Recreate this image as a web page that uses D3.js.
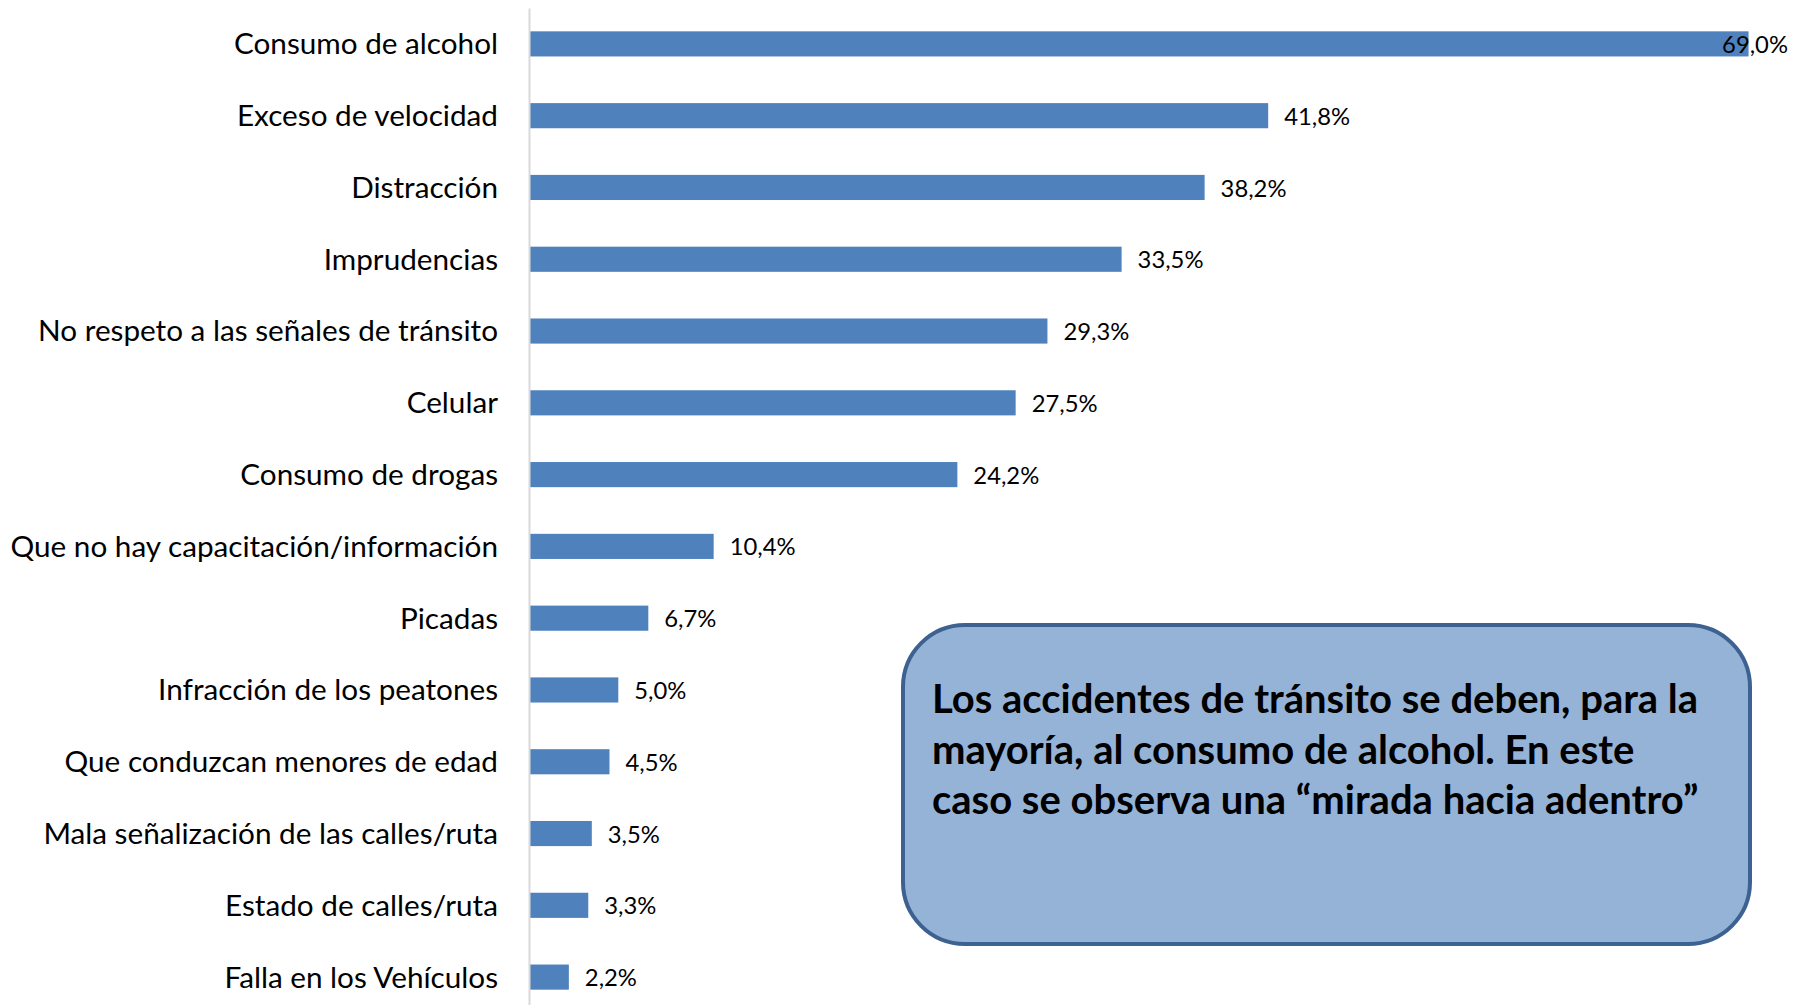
<!DOCTYPE html>
<html>
<head>
<meta charset="utf-8">
<script src="https://cdn.jsdelivr.net/npm/d3@7"></script>
<style>
  body { margin: 0; background: #fff; }
  text { font-family: Lato, "Noto Sans", sans-serif; fill: #000; }
</style>
</head>
<body>
<svg id="chart" width="1804" height="1005"></svg>
<script>
var categories = ["Consumo de alcohol", "Exceso de velocidad", "Distracción", "Imprudencias",
  "No respeto a las señales de tránsito", "Celular", "Consumo de drogas",
  "Que no hay capacitación/información", "Picadas", "Infracción de los peatones",
  "Que conduzcan menores de edad", "Mala señalización de las calles/ruta",
  "Estado de calles/ruta", "Falla en los Vehículos"];
var values = [69.0, 41.8, 38.2, 33.5, 29.3, 27.5, 24.2, 10.4, 6.7, 5.0, 4.5, 3.5, 3.3, 2.2];
var noteLines = ["Los accidentes de tránsito se deben, para la",
  "mayoría, al consumo de alcohol. En este",
  "caso se observa una “mirada hacia adentro”"];

var svg = d3.select("#chart"),
    left = 530, labelRight = 1788;

var x = d3.scaleLinear().domain([0, 70]).range([left, left + 70 * 17.66]);
var y = d3.scaleBand().domain(categories).range([8, 1013])
    .paddingInner(0.65).paddingOuter(0.325);

var rows = categories.map(function(c, i) { return { cat: c, val: values[i] }; });

// bars
svg.append("g").selectAll("rect")
    .data(rows)
  .enter().append("rect")
    .attr("x", x(0))
    .attr("y", function(d) { return y(d.cat); })
    .attr("width", function(d) { return x(d.val) - x(0); })
    .attr("height", y.bandwidth())
    .attr("fill", "#4f81bd");

// axis (no ticks)
var axis = svg.append("g")
    .attr("transform", "translate(" + (left - 1) + ",0)")
    .call(d3.axisLeft(y).tickSize(0).tickFormat(""));
axis.select(".domain").attr("stroke", "#d9d9d9").attr("stroke-width", 2);

// category labels
svg.append("g").selectAll("text")
    .data(rows)
  .enter().append("text")
    .attr("x", 498)
    .attr("y", function(d) { return y(d.cat) + y.bandwidth() / 2; })
    .attr("dy", "0.35em")
    .attr("text-anchor", "end")
    .style("font-size", "29.7px")
    .text(function(d) { return d.cat; });

// value labels
svg.append("g").selectAll("text")
    .data(rows)
  .enter().append("text")
    .attr("y", function(d) { return y(d.cat) + y.bandwidth() / 2; })
    .attr("dy", "0.38em")
    .style("font-size", "23.8px")
    .text(function(d) { return d.val.toFixed(1).replace(".", ",") + "%"; })
    .attr("x", function(d) {
      var w = this.getComputedTextLength();
      return Math.min(x(d.val) + 16, labelRight - w);
    });

// note box
var note = svg.append("g");
note.append("rect")
    .attr("x", 903).attr("y", 625)
    .attr("width", 847).attr("height", 319)
    .attr("rx", 62).attr("ry", 62)
    .attr("fill", "#95b3d7")
    .attr("stroke", "#3d6190")
    .attr("stroke-width", 4);
note.selectAll("text")
    .data(noteLines)
  .enter().append("text")
    .attr("x", 932)
    .attr("y", function(d, i) { return 713 + i * 50.5; })
    .style("font-size", "40px")
    .style("font-weight", "bold")
    .text(function(d) { return d; });
</script>
</body>
</html>
